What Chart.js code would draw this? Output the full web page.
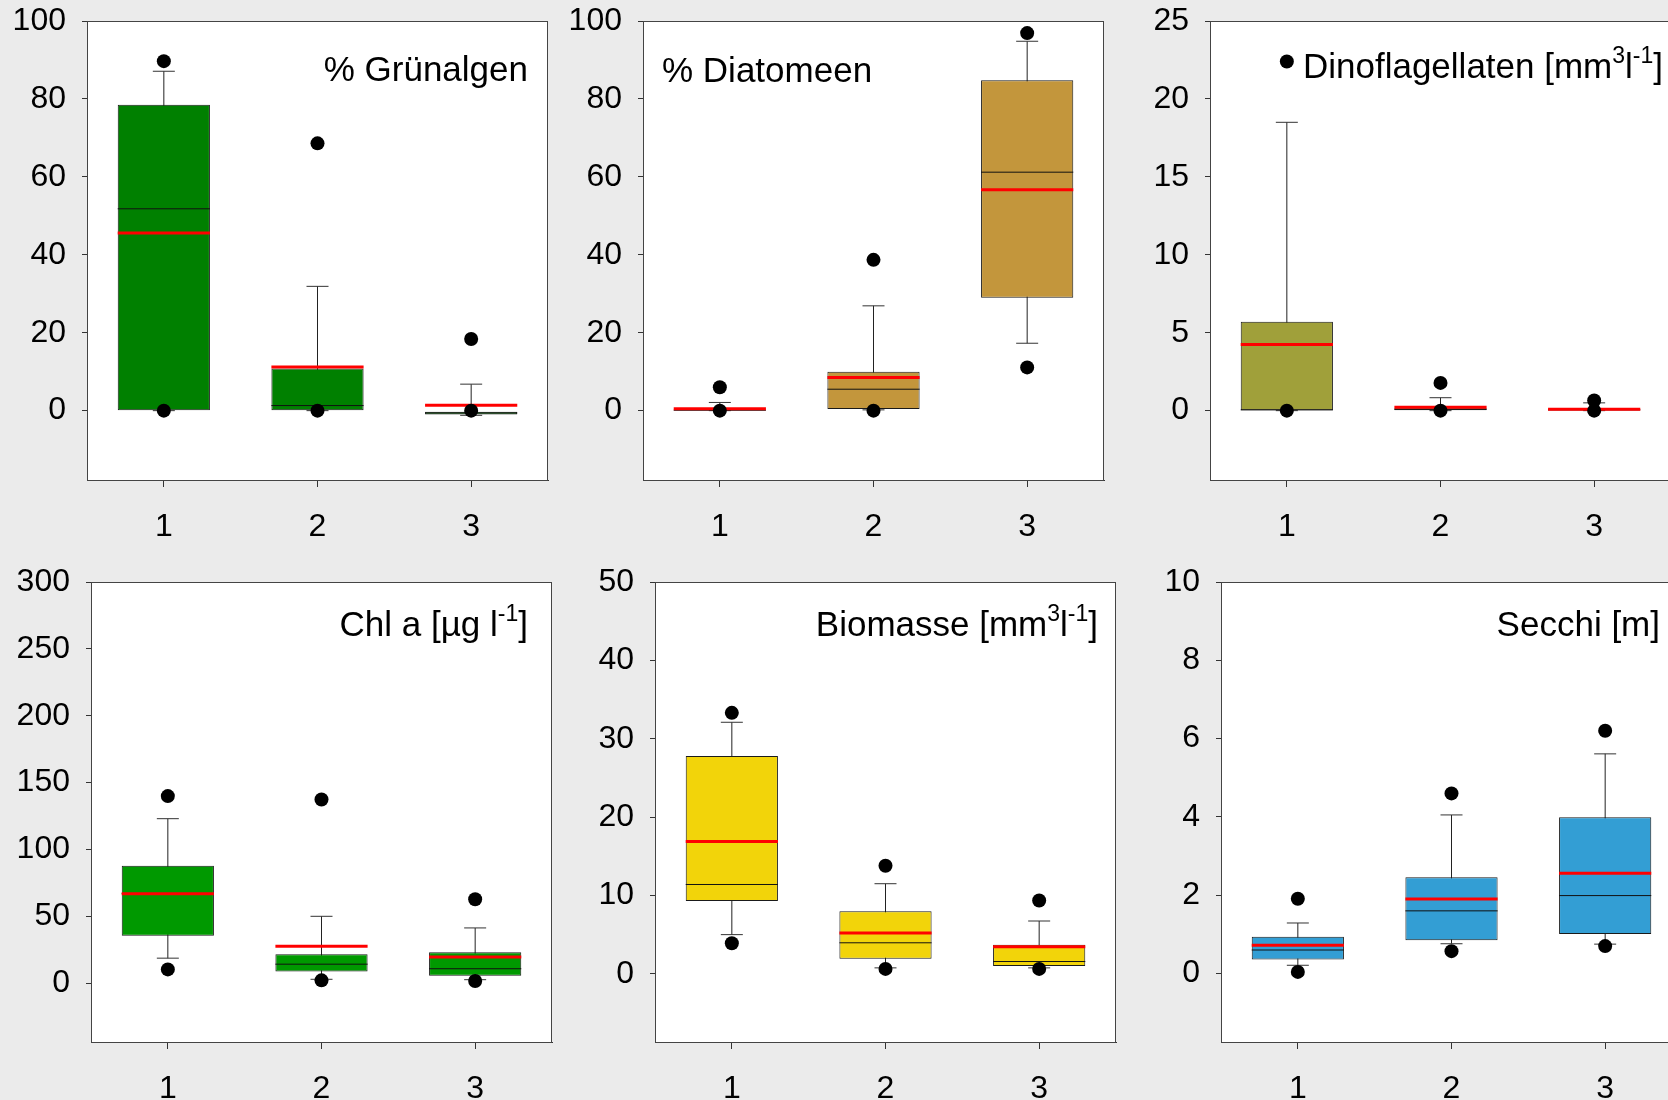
<!DOCTYPE html>
<html>
<head>
<meta charset="utf-8">
<script src="https://cdn.jsdelivr.net/npm/chart.js@4.4.1/dist/chart.umd.min.js"></script>
<style>
  html, body { margin: 0; padding: 0; background: #ebebeb; overflow: hidden; width: 1668px; height: 1100px; }
  .panel { position: absolute; width: 553px; height: 575px; }
  .low { height: 576px; }
</style>
</head>
<body>
<div class="panel" style="left:7px;top:-15px"><canvas id="gruen"></canvas></div>
<div class="panel" style="left:563px;top:-15px"><canvas id="diat"></canvas></div>
<div class="panel" style="left:1130px;top:-15px"><canvas id="dino"></canvas></div>
<div class="panel low" style="left:11px;top:546px"><canvas id="chl"></canvas></div>
<div class="panel low" style="left:575px;top:546px"><canvas id="bio"></canvas></div>
<div class="panel low" style="left:1141px;top:546px"><canvas id="secchi"></canvas></div>
<script>
// groups on the x axis
var groups = [1, 2, 3];

// % Gruenalgen
var gruenQ1 = [0, 0, -1];
var gruenQ3 = [78.5, 10.8, -0.3];
var gruenMedian = [51.8, 1.3, -0.6];
var gruenMean = [45.6, 11.2, 1.4];
var gruenWhiskerLow = [0, 0, -1.2];
var gruenWhiskerHigh = [87.1, 31.9, 6.8];
var gruenDotLow = [0, 0, 0];
var gruenDotHigh = [89.7, 68.6, 18.4];
var gruenTicks = [0, 20, 40, 60, 80, 100];

// % Diatomeen
var diatQ1 = [0, 0.45, 29.0];
var diatQ3 = [0.3, 10.0, 84.8];
var diatMedian = [0.1, 5.5, 61.2];
var diatMean = [0.5, 8.5, 56.7];
var diatWhiskerLow = [0, 0.2, 17.3];
var diatWhiskerHigh = [2.1, 26.9, 94.8];
var diatDotLow = [0, 0, 11.1];
var diatDotHigh = [6.0, 38.7, 96.9];
var diatTicks = [0, 20, 40, 60, 80, 100];

// Dinoflagellaten
var dinoQ1 = [0, 0.02, 0.02];
var dinoQ3 = [5.7, 0.18, 0.12];
var dinoMedian = [0.05, 0.08, 0.05];
var dinoMean = [4.25, 0.22, 0.09];
var dinoWhiskerLow = [0, 0, 0];
var dinoWhiskerHigh = [18.5, 0.83, 0.5];
var dinoDotLow = [0, 0, 0];
var dinoDotHigh = [22.4, 1.78, 0.65];
var dinoTicks = [0, 5, 10, 15, 20, 25];

// Chl a
var chlQ1 = [35.5, 8.7, 5.5];
var chlQ3 = [87.8, 21.6, 23.1];
var chlMedian = [67, 14.2, 10.8];
var chlMean = [66.8, 27.6, 19.5];
var chlWhiskerLow = [18.7, 2.9, 2.6];
var chlWhiskerHigh = [123, 50, 41.3];
var chlDotLow = [10.3, 2.1, 1.6];
var chlDotHigh = [139.9, 137.3, 62.8];
var chlTicks = [0, 50, 100, 150, 200, 250, 300];

// Biomasse
var bioQ1 = [9.3, 1.93, 1.0];
var bioQ3 = [27.8, 8.0, 3.7];
var bioMedian = [11.4, 3.96, 1.57];
var bioMean = [16.9, 5.2, 3.46];
var bioWhiskerLow = [5.0, 0.76, 0.76];
var bioWhiskerHigh = [32.1, 11.5, 6.74];
var bioDotLow = [3.9, 0.63, 0.63];
var bioDotHigh = [33.3, 13.8, 9.35];
var bioTicks = [0, 10, 20, 30, 40, 50];

// Secchi
var secchiQ1 = [0.36, 0.85, 1.01];
var secchiQ3 = [0.94, 2.46, 3.99];
var secchiMedian = [0.60, 1.60, 1.99];
var secchiMean = [0.72, 1.90, 2.56];
var secchiWhiskerLow = [0.21, 0.76, 0.75];
var secchiWhiskerHigh = [1.29, 4.05, 5.61];
var secchiDotLow = [0.04, 0.57, 0.70];
var secchiDotHigh = [1.91, 4.60, 6.20];
var secchiTicks = [0, 2, 4, 6, 8, 10];

var FONT = '"Liberation Sans", Arial, sans-serif';
var BOX_FRACTION = 0.6;
Chart.defaults.font.family = FONT;

// helpers to turn the arrays into {x, y} points
function points(values) {
  return groups.map(function (g, i) { return { x: g, y: values[i] }; });
}
function ranges(low, high) {
  return groups.map(function (g, i) { return { x: g, y: [low[i], high[i]] }; });
}

// half the box width in pixels, so median / mean lines span the box
function halfBox(ctx) {
  var xs = ctx.chart.scales.x;
  return xs.getPixelForValue(1 + BOX_FRACTION / 2) - xs.getPixelForValue(1);
}

// white plot area and frame
var plotFrame = {
  id: 'plotFrame',
  beforeDraw: function (chart) {
    var a = chart.chartArea, ctx = chart.ctx;
    ctx.save();
    ctx.fillStyle = '#fff';
    ctx.fillRect(a.left, a.top, a.right - a.left, a.bottom - a.top);
    ctx.restore();
  },
  afterDatasetsDraw: function (chart) {
    var a = chart.chartArea, ctx = chart.ctx;
    ctx.save();
    ctx.strokeStyle = '#444';
    ctx.lineWidth = 1;
    ctx.strokeRect(a.left + 0.5, a.top + 0.5, a.right - a.left - 1, a.bottom - a.top);
    ctx.restore();
  }
};

// panel title with optional superscripts
var panelTitle = {
  id: 'panelTitle',
  afterDatasetsDraw: function (chart, args, opts) {
    var ctx = chart.ctx, a = chart.chartArea;
    var big = opts.size + 'px ' + FONT;
    var small = Math.round(opts.size * 0.66) + 'px ' + FONT;
    ctx.save();
    ctx.fillStyle = '#000';
    ctx.textBaseline = 'alphabetic';
    ctx.textAlign = 'left';
    var total = 0;
    opts.parts.forEach(function (p) {
      ctx.font = p.sup ? small : big;
      total += ctx.measureText(p.text).width;
    });
    var x = opts.align === 'left' ? a.left + opts.inset : a.right - opts.inset - total;
    var y = a.top + opts.baseline;
    opts.parts.forEach(function (p) {
      ctx.font = p.sup ? small : big;
      ctx.fillText(p.text, x, p.sup ? y - opts.size * 0.42 : y);
      x += ctx.measureText(p.text).width;
    });
    ctx.restore();
  }
};

function makePanel(id, s) {
  var ctx = document.getElementById(id).getContext('2d');
  return new Chart(ctx, {
    type: 'bar',
    data: {
      datasets: [
        {
          // whisker stems
          type: 'bar',
          data: ranges(s.whiskerLow, s.whiskerHigh),
          backgroundColor: '#222',
          borderWidth: 0,
          grouped: false,
          maxBarThickness: 1,
          order: 6
        },
        {
          // boxes
          type: 'bar',
          data: ranges(s.q1, s.q3),
          backgroundColor: s.color,
          borderColor: '#1a1a1a',
          borderWidth: 1,
          borderSkipped: false,
          grouped: false,
          barPercentage: BOX_FRACTION,
          categoryPercentage: 1,
          order: 5
        },
        {
          // whisker caps
          type: 'scatter',
          data: points(s.whiskerLow).concat(points(s.whiskerHigh)),
          pointStyle: 'line',
          pointRadius: 11,
          borderColor: '#333',
          borderWidth: 1,
          order: 4
        },
        {
          // median
          type: 'scatter',
          data: points(s.median),
          pointStyle: 'line',
          pointRadius: halfBox,
          borderColor: '#111',
          borderWidth: 1,
          order: 3
        },
        {
          // mean
          type: 'scatter',
          data: points(s.mean),
          pointStyle: 'line',
          pointRadius: halfBox,
          borderColor: '#ff0000',
          borderWidth: 3,
          order: 2
        },
        {
          // 5th / 95th percentile dots
          type: 'scatter',
          data: points(s.dotLow).concat(points(s.dotHigh)),
          pointStyle: 'circle',
          pointRadius: 7,
          backgroundColor: '#000',
          borderColor: '#000',
          borderWidth: 0,
          order: 1
        }
      ]
    },
    options: {
      responsive: true,
      maintainAspectRatio: false,
      animation: false,
      events: [],
      layout: { padding: { top: 36, right: 12, left: 0, bottom: 0 } },
      plugins: {
        legend: { display: false },
        tooltip: { enabled: false },
        panelTitle: s.title
      },
      scales: {
        x: {
          type: 'linear',
          min: 0.5,
          max: 3.5,
          offset: false,
          afterBuildTicks: function (scale) {
            scale.ticks = groups.map(function (v) { return { value: v }; });
          },
          afterFit: function (scale) { scale.height = 80; },
          grid: { drawOnChartArea: false, offset: false, tickLength: 7, color: '#333' },
          border: { color: '#333' },
          ticks: { color: '#000', font: { size: 32 }, padding: 21 }
        },
        y: {
          type: 'linear',
          min: s.min,
          max: s.max,
          afterBuildTicks: function (scale) {
            scale.ticks = s.ticks.map(function (v) { return { value: v }; });
          },
          afterFit: function (scale) { scale.width = 80; },
          grid: { drawOnChartArea: false, tickLength: 5, color: '#333' },
          border: { color: '#333' },
          ticks: { color: '#000', font: { size: 32 }, padding: 16 }
        }
      }
    },
    plugins: [plotFrame, panelTitle]
  });
}

makePanel('gruen', {
  q1: gruenQ1, q3: gruenQ3, median: gruenMedian, mean: gruenMean,
  whiskerLow: gruenWhiskerLow, whiskerHigh: gruenWhiskerHigh,
  dotLow: gruenDotLow, dotHigh: gruenDotHigh,
  ticks: gruenTicks, min: -17.8, max: 100, color: '#008000',
  title: { parts: [{ text: '% Grünalgen' }], align: 'right', inset: 20, baseline: 60, size: 35 }
});

makePanel('diat', {
  q1: diatQ1, q3: diatQ3, median: diatMedian, mean: diatMean,
  whiskerLow: diatWhiskerLow, whiskerHigh: diatWhiskerHigh,
  dotLow: diatDotLow, dotHigh: diatDotHigh,
  ticks: diatTicks, min: -17.8, max: 100, color: '#c3963c',
  title: { parts: [{ text: '% Diatomeen' }], align: 'left', inset: 19, baseline: 61, size: 35 }
});

makePanel('dino', {
  q1: dinoQ1, q3: dinoQ3, median: dinoMedian, mean: dinoMean,
  whiskerLow: dinoWhiskerLow, whiskerHigh: dinoWhiskerHigh,
  dotLow: dinoDotLow, dotHigh: dinoDotHigh,
  ticks: dinoTicks, min: -4.45, max: 25, color: '#a0a03a',
  title: {
    parts: [{ text: 'Dinoflagellaten [mm' }, { text: '3', sup: true }, { text: 'l' }, { text: '-1', sup: true }, { text: ']' }],
    align: 'right', inset: 8, baseline: 57, size: 35
  }
});

makePanel('chl', {
  q1: chlQ1, q3: chlQ3, median: chlMedian, mean: chlMean,
  whiskerLow: chlWhiskerLow, whiskerHigh: chlWhiskerHigh,
  dotLow: chlDotLow, dotHigh: chlDotHigh,
  ticks: chlTicks, min: -44, max: 300, color: '#009900',
  title: {
    parts: [{ text: 'Chl a [µg l' }, { text: '-1', sup: true }, { text: ']' }],
    align: 'right', inset: 24, baseline: 54, size: 35
  }
});

makePanel('bio', {
  q1: bioQ1, q3: bioQ3, median: bioMedian, mean: bioMean,
  whiskerLow: bioWhiskerLow, whiskerHigh: bioWhiskerHigh,
  dotLow: bioDotLow, dotHigh: bioDotHigh,
  ticks: bioTicks, min: -8.7, max: 50, color: '#f2d40a',
  title: {
    parts: [{ text: 'Biomasse [mm' }, { text: '3', sup: true }, { text: 'l' }, { text: '-1', sup: true }, { text: ']' }],
    align: 'right', inset: 18, baseline: 54, size: 35
  }
});

makePanel('secchi', {
  q1: secchiQ1, q3: secchiQ3, median: secchiMedian, mean: secchiMean,
  whiskerLow: secchiWhiskerLow, whiskerHigh: secchiWhiskerHigh,
  dotLow: secchiDotLow, dotHigh: secchiDotHigh,
  ticks: secchiTicks, min: -1.75, max: 10, color: '#339ed4',
  title: { parts: [{ text: 'Secchi [m]' }], align: 'right', inset: 22, baseline: 54, size: 35 }
});
</script>
</body>
</html>
